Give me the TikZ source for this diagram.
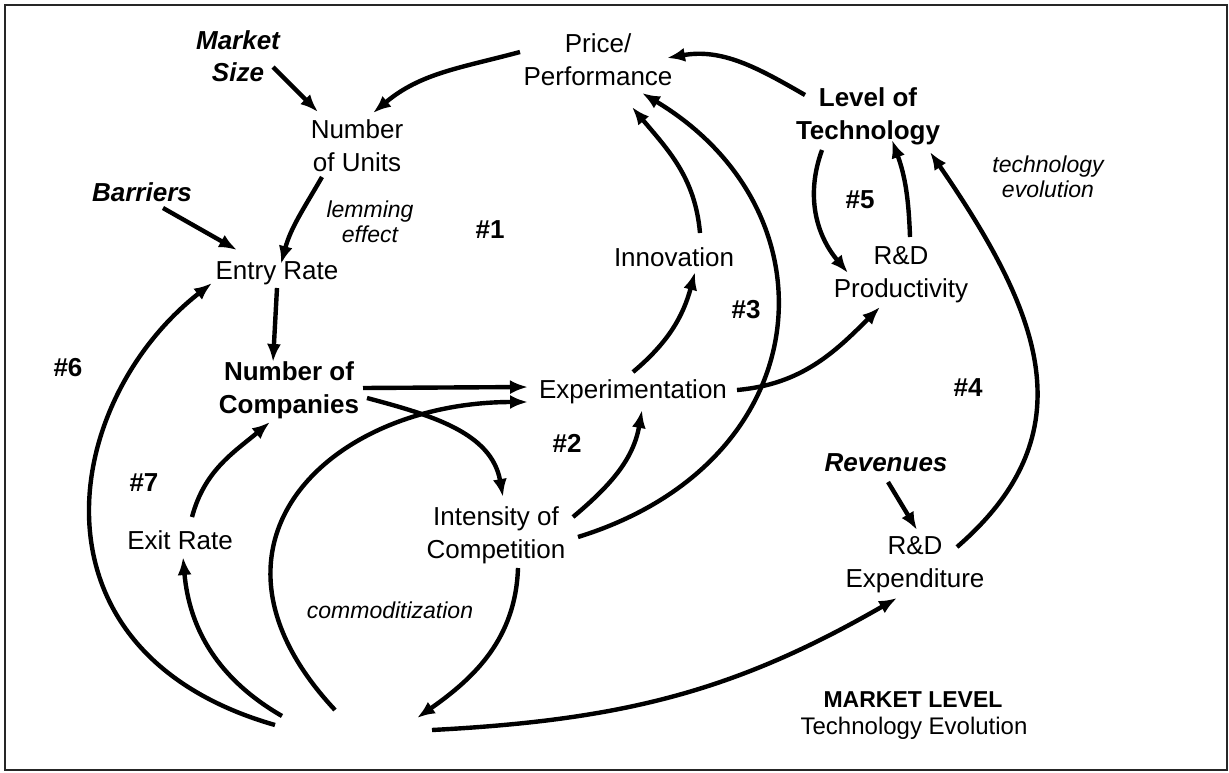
\documentclass[tikz,border=0pt]{standalone}
\usepackage{fontspec}
\setmainfont{Liberation Sans}
\usetikzlibrary{arrows.meta,calc}
\tikzset{
  lbl/.style={align=center, inner sep=0pt, font=\fontsize{13}{16.5}\selectfont},
  blbl/.style={lbl, font=\fontsize{13}{16.5}\selectfont\bfseries},
  bilbl/.style={lbl, font=\fontsize{13}{16}\selectfont\bfseries\itshape},
  ilbl/.style={lbl, font=\fontsize{11.5}{12.5}\selectfont\itshape},
  loopno/.style={lbl, font=\fontsize{13}{16}\selectfont\bfseries},
  arr/.style={line width=2.2pt, -{Latex[length=9pt,width=7pt]}},
  frame/.style={line width=1.2pt, draw=black!85}
}
\begin{document}
\begin{tikzpicture}[x=0.5pt,y=0.5pt]
\useasboundingbox (0,0) rectangle (1229,772);
\draw[frame] (5,2) rectangle (1227,767);

% nodes
\node[bilbl] (msize) at (238,716) {Market\\Size};
\node[lbl] (units) at (357,626) {Number\\of Units};
\node[lbl] (price) at (598,712) {Price/\\Performance};
\node[blbl] (tech) at (868,656) {Level of\\Technology};
\node[ilbl] (techevo) at (1048,595) {technology\\evolution};
\node[bilbl] (barriers) at (142,580) {Barriers};
\node[ilbl] (lemming) at (370,550) {lemming\\effect};
\node[lbl] (entry) at (277,499) {Entry Rate};
\node[lbl] (innov) at (674,515) {Innovation};
\node[lbl] (rdprod) at (901,497) {R\&D\\Productivity};
\node[loopno] (n1) at (490,542) {\#1};
\node[loopno] (n5) at (860,572) {\#5};
\node[loopno] (n3) at (746,462) {\#3};
\node[loopno] (n6) at (68,404) {\#6};
\node[loopno] (n4) at (968,384) {\#4};
\node[blbl] (companies) at (289,382) {Number of\\Companies};
\node[lbl] (exper) at (633,380) {Experimentation};
\node[loopno] (n2) at (567,329) {\#2};
\node[loopno] (n7) at (144,289) {\#7};
\node[lbl] (exit) at (180,232) {Exit Rate};
\node[bilbl] (revenues) at (886,309) {Revenues};
\node[lbl] (intensity) at (496,237) {Intensity of\\Competition};
\node[lbl] (rdexp) at (915,207) {R\&D\\Expenditure};
\node[ilbl] (commod) at (390,162) {commoditization};
\node[lbl, font=\fontsize{11.5}{14}\selectfont\bfseries] (market) at (913,72) {MARKET LEVEL};
\node[lbl, font=\fontsize{12}{14}\selectfont] (techev2) at (914,44) {Technology Evolution};
\coordinate (hub) at (355,50);

% connectors
\draw[arr] ($(msize)+(35,-11)$) -- ($(units)+(-39,34)$);
\draw[arr] ($(price)+(-78,8)$) to[out=195,in=40] ($(units)+(16,33)$);
\draw[arr] ($(tech)+(-63,21)$) to[out=150,in=10] ($(price)+(69,2)$);
\draw[arr] ($(barriers)+(21,-16)$) -- ($(entry)+(-40,23)$);
\draw[arr] ($(units)+(-35,-31)$) to[out=240,in=75] ($(entry)+(4,9)$);
\draw[arr] ($(entry)+(0,-15)$) -- ($(companies)+(-16,28)$);
\draw[arr] ($(companies)+(74,2)$) -- ($(exper)+(-105,5)$);
\draw[arr] ($(companies)+(78,-8)$) to[out=-15,in=100] ($(intensity)+(7,38)$);
\draw[arr] ($(hub)+(-20,12)$) .. controls (180,228) and (330,370) .. ($(exper)+(-105,-10)$);
\draw[arr] ($(intensity)+(77,18)$) to[out=40,in=260] ($(exper)+(9,-18)$);
\draw[arr] ($(exper)+(0,20)$) to[out=40,in=255] ($(innov)+(21,-15)$);
\draw[arr] ($(innov)+(26,24)$) to[out=95,in=-50] ($(price)+(34,-47)$);
\draw[arr] ($(intensity)+(82,-2)$) .. controls (820,310) and (840,560) .. ($(price)+(44,-33)$);
\draw[arr] ($(exper)+(104,2)$) to[out=5,in=225] ($(rdprod)+(-21,-32)$);
\draw[arr] ($(tech)+(-46,-34)$) to[out=250,in=130] ($(rdprod)+(-53,2)$);
\draw[arr] ($(rdprod)+(9,38)$) to[out=92,in=-70] ($(tech)+(24,-24)$);
\draw[arr] ($(revenues)+(2,-19)$) -- ($(rdexp)+(2,35)$);
\draw[arr] ($(rdexp)+(42,18)$) .. controls (1090,340) and (1040,460) .. ($(tech)+(62,-36)$);
\draw[arr] ($(intensity)+(22,-33)$) to[out=268,in=35] ($(hub)+(62,4)$);
\draw[arr] ($(hub)+(77,-8)$) to[out=3,in=210] ($(rdexp)+(-18,-33)$);
\draw[arr] ($(hub)+(-73,6)$) to[out=150,in=-85] ($(exit)+(3,-17)$);
\draw[arr] ($(exit)+(12,23)$) to[out=75,in=220] ($(companies)+(-19,-32)$);
\draw[arr] ($(hub)+(-80,-3)$) .. controls (20,120) and (60,370) .. ($(entry)+(-65,-10)$);
\end{tikzpicture}
\end{document}
